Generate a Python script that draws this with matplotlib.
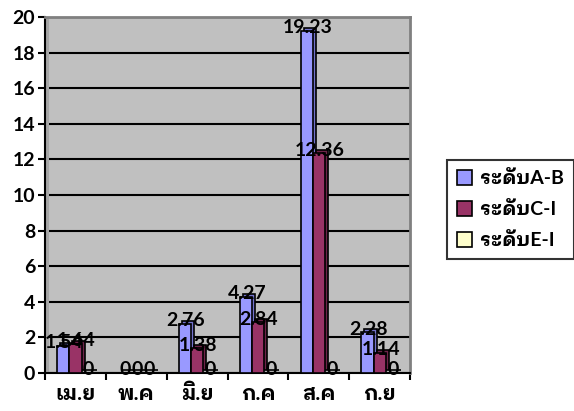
import matplotlib
matplotlib.use("Agg")
import matplotlib.pyplot as plt
import matplotlib.transforms as mtransforms
from matplotlib.patches import Rectangle, Patch
import numpy as np

plt.rcParams['font.family'] = ['Lato', 'IBM Plex Sans Thai Looped']
plt.rcParams['font.weight'] = 'bold'

months = ['เม.ย', 'พ.ค', 'มิ.ย', 'ก.ค', 'ส.ค', 'ก.ย']
series_names = ['ระดับA-B', 'ระดับC-I', 'ระดับE-I']
level_ab = [1.54, 0, 2.76, 4.27, 19.23, 2.28]
level_ci = [1.64, 0, 1.38, 2.84, 12.36, 1.14]
level_ei = [0, 0, 0, 0, 0, 0]
y_ticks = [0, 2, 4, 6, 8, 10, 12, 14, 16, 18, 20]

front_colors = ['#9999FF', '#993366', '#FFFFCC']
side_colors = ['#7373CC', '#6E2449', '#CCCC99']

fig = plt.figure(figsize=(5.74, 4.11), dpi=100)
ax = fig.add_axes([0.0784, 0.0925, 0.636, 0.866])
ax.set_facecolor('#C0C0C0')

x = np.arange(len(months))
width = 0.2
offsets = [-0.2, 0.0, 0.2]
all_values = [level_ab, level_ci, level_ei]

depth = mtransforms.offset_copy(ax.transData, fig=fig, x=3, y=3, units='dots')

for vals, off, fc, sc in zip(all_values, offsets, front_colors, side_colors):
    # depth face drawn shifted behind the front face
    ax.bar(x + off, vals, width, color=sc, edgecolor='black', linewidth=1.2,
           transform=depth, zorder=2)
    ax.bar(x + off, vals, width, color=fc, edgecolor='black', linewidth=1.2,
           zorder=3)

# value labels
for i, (vals, off) in enumerate(zip(all_values, offsets)):
    for xi, v in zip(x, vals):
        if v == 0 and i < 2 and months[xi] != 'พ.ค':
            continue
        txt = f'{v:g}' if v != 0 else '0'
        ax.annotate(txt, (xi + off, v), xytext=(1, 3), textcoords='offset pixels',
                    ha='center', va='center', fontsize=14, fontweight='bold',
                    zorder=5)

ax.set_xlim(-0.5, len(months) - 0.5)
ax.set_ylim(0, 20)

ax.set_yticks(y_ticks)
ax.set_yticklabels([str(t) for t in y_ticks], fontsize=14, fontweight='bold')
ax.yaxis.grid(True, color='black', linewidth=1.5)
ax.set_axisbelow(True)

ax.set_xticks(x)
ax.set_xticklabels(months, fontsize=15, fontweight='bold')
ax.set_xticks(np.arange(-0.5, len(months) + 0.5, 1), minor=True)
ax.tick_params(axis='x', which='major', length=0, pad=8)
ax.tick_params(axis='x', which='minor', length=5, width=1.5, direction='out')
ax.tick_params(axis='y', length=5, width=1.5, direction='out', pad=2)

# side wall strip on the left of the plot area
ax.add_patch(Rectangle((0, 0), 0.012, 1, transform=ax.transAxes,
                       facecolor='#A6A6A6', edgecolor='none', zorder=1))

for s in ['left', 'bottom']:
    ax.spines[s].set_color('black')
    ax.spines[s].set_linewidth(1.5)
for s in ['top', 'right']:
    ax.spines[s].set_color('#808080')
    ax.spines[s].set_linewidth(2)

handles = [Patch(facecolor=c, edgecolor='black', linewidth=1.2) for c in front_colors]
leg = fig.legend(handles, series_names, loc='center left',
                 bbox_to_anchor=(0.779, 0.49), bbox_transform=fig.transFigure,
                 prop={'size': 14, 'weight': 'bold'}, frameon=True, fancybox=False,
                 edgecolor='black', handlelength=0.8, handleheight=0.8,
                 handletextpad=0.4, labelspacing=0.7, borderpad=0.5,
                 borderaxespad=0)
leg.get_frame().set_linewidth(1.5)

fig.savefig('out.png', dpi=100)
